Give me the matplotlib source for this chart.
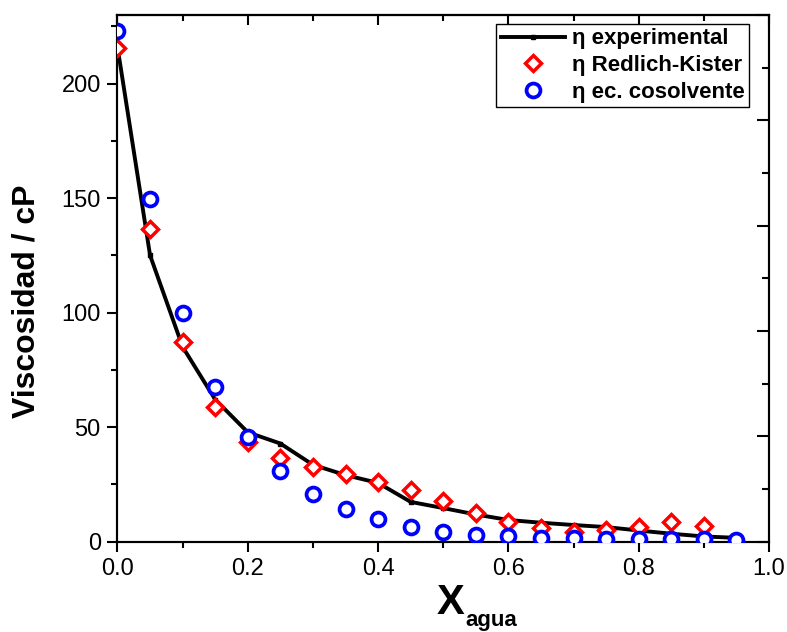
import matplotlib
matplotlib.use("Agg")
import matplotlib.pyplot as plt
from matplotlib.ticker import MultipleLocator

# ---- data ----
x_exp = [0.00, 0.05, 0.10, 0.15, 0.20, 0.25, 0.30, 0.35, 0.40, 0.45,
         0.50, 0.55, 0.60, 0.65, 0.70, 0.75, 0.80, 0.85, 0.90, 0.95]
eta_exp = [216, 125, 85, 62, 47.7, 42.8, 33.5, 29, 25.6, 17.3,
           14.6, 11.8, 9.4, 8.2, 7.2, 6.3, 4.8, 3.4, 2.2, 1.6]

x_rk = [0.00, 0.05, 0.10, 0.15, 0.20, 0.25, 0.30, 0.35, 0.40, 0.45,
        0.50, 0.55, 0.60, 0.65, 0.70, 0.75, 0.80, 0.85, 0.90]
eta_rk = [215.7, 136.4, 87.2, 58.7, 43.5, 36.5, 32.4, 29.5, 26, 22.4,
          17.7, 12.6, 8.5, 5.9, 4.2, 5.0, 6.3, 8.5, 6.8]

x_cos = [0.00, 0.05, 0.10, 0.15, 0.20, 0.25, 0.30, 0.35, 0.40, 0.45,
         0.50, 0.55, 0.60, 0.65, 0.70, 0.75, 0.80, 0.85, 0.90, 0.95]
eta_cos = [223, 149.6, 99.8, 67.4, 45.6, 30.8, 20.8, 14.2, 9.8, 6.4,
           4.2, 3.0, 2.4, 1.7, 1.4, 1.2, 1.2, 0.9, 0.9, 0.6]

labels = ["η experimental", "η Redlich-Kister", "η ec. cosolvente"]
xticks = [0.0, 0.2, 0.4, 0.6, 0.8, 1.0]
yticks = [0, 50, 100, 150, 200]

W, H = 787, 632
fig = plt.figure(figsize=(W / 100, H / 100), dpi=100)
L, R, T, B = 117.5, 769, 15, 541.5
ax = fig.add_axes([L / W, 1 - B / H, (R - L) / W, (B - T) / H])

tick_font = ["Liberation Sans Narrow", "Liberation Sans", "DejaVu Sans"]
bold_font = ["Liberation Sans", "DejaVu Sans"]

ax.plot(x_exp, eta_exp, color="black", lw=2.8, marker="s", ms=2.5,
        label=labels[0], zorder=2)
ax.plot(x_rk, eta_rk, ls="none", marker="D", ms=8.5, mfc="white",
        mec="red", mew=2.5, label=labels[1], zorder=3)
ax.plot(x_cos, eta_cos, ls="none", marker="o", ms=10, mfc="white",
        mec="blue", mew=2.7, label=labels[2], zorder=4)

ax.set_xlim(0, 1.0)
ax.set_ylim(0, 230)
ax.set_xticks(xticks)
ax.set_yticks(yticks)
ax.set_xticklabels([f"{v:.1f}" for v in xticks], fontfamily=tick_font, fontsize=17)
ax.set_yticklabels([str(v) for v in yticks], fontfamily=tick_font, fontsize=17)
ax.xaxis.set_minor_locator(MultipleLocator(0.1))
ax.yaxis.set_minor_locator(MultipleLocator(25))

for s in ax.spines.values():
    s.set_linewidth(1.5)

ax.tick_params(which="major", direction="out", length=7, width=1.5, pad=5,
               top=False, right=False)
ax.tick_params(which="minor", direction="out", length=4, width=1.5,
               top=False, right=False)

# top ticks (inward)
axt = ax.secondary_xaxis("top")
axt.set_xticks(xticks)
axt.xaxis.set_minor_locator(MultipleLocator(0.1))
axt.tick_params(which="major", direction="in", length=7, width=1.5, labeltop=False)
axt.tick_params(which="minor", direction="in", length=4, width=1.5)
axt.spines["top"].set_linewidth(1.5)

# right ticks (inward, independent scale)
axr = ax.twinx()
axr.set_ylim(0, 250)
axr.yaxis.set_major_locator(MultipleLocator(50))
axr.yaxis.set_minor_locator(MultipleLocator(25))
axr.tick_params(which="major", direction="in", length=9, width=1.5, labelright=False)
axr.tick_params(which="minor", direction="in", length=5, width=1.5)
for s in axr.spines.values():
    s.set_linewidth(1.5)
axr.set_zorder(0)
ax.set_zorder(1)
ax.patch.set_visible(False)

leg = ax.legend(loc="upper right",
                bbox_to_anchor=((749 - L) / (R - L), (B - 24) / (B - T)),
                borderaxespad=0, frameon=True, fancybox=False, shadow=False,
                edgecolor="black", framealpha=1, borderpad=0.2,
                labelspacing=0.25, handletextpad=0.3, handlelength=2.9,
                prop={"family": bold_font, "weight": "bold", "size": 16})
leg.get_frame().set_linewidth(1.0)

# axis labels
fig.text(26.5 / W, 1 - 301 / H, "Viscosidad / cP", rotation=90, ha="center",
         va="center", fontfamily=bold_font, fontweight="bold", fontsize=23)
fig.text(437 / W, 1 - 614 / H, "X", ha="left", va="baseline",
         fontfamily=bold_font, fontweight="bold", fontsize=30)
fig.text(465 / W, 1 - 626 / H, "agua", ha="left", va="baseline",
         fontfamily=bold_font, fontweight="bold", fontsize=16)

fig.savefig("out.png", dpi=100)
